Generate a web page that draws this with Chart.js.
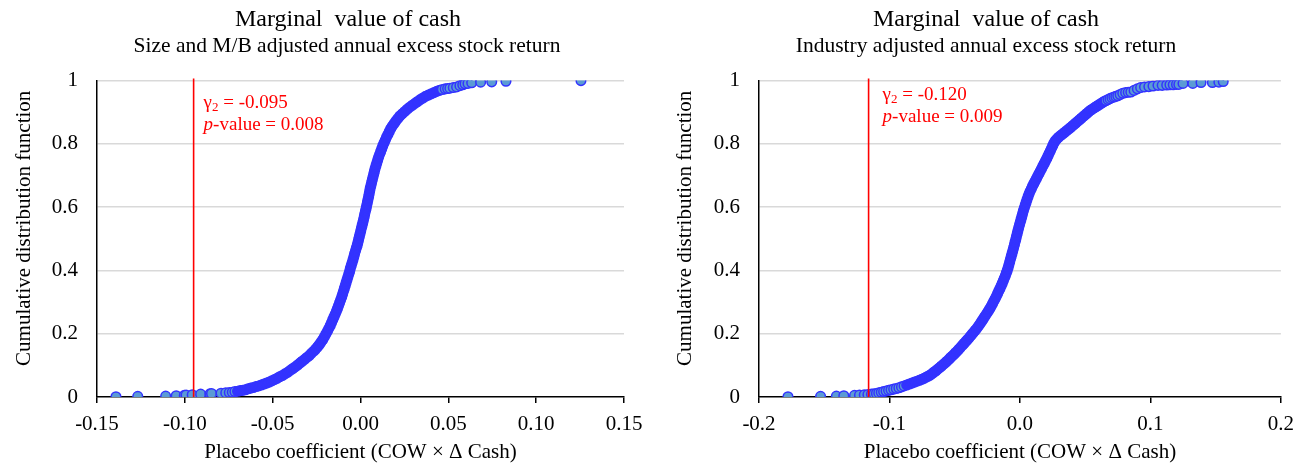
<!DOCTYPE html>
<html>
<head>
<meta charset="utf-8">
<script src="https://cdn.jsdelivr.net/npm/chart.js@4.4.1/dist/chart.umd.min.js"></script>
<style>
  html, body { margin: 0; padding: 0; background: #ffffff; overflow: hidden; }
  #wrap { position: relative; width: 1303px; height: 465px; }
  canvas { position: absolute; top: 0; }
  #c1 { left: 0px; }
  #c2 { left: 669px; }
</style>
</head>
<body>
<div id="wrap">
  <canvas id="c1" width="696" height="465"></canvas>
  <canvas id="c2" width="634" height="465"></canvas>
</div>
<script>
// ---------- DATA ----------
const mainTitle = 'Marginal  value of cash';
const leftSubtitle = 'Size and M/B adjusted annual excess stock return';
const rightSubtitle = 'Industry adjusted annual excess stock return';
const xAxisTitle = 'Placebo coefficient (COW \u00d7 \u0394 Cash)';
const yAxisTitle = 'Cumulative distribution function';

const yTickValues = [0, 0.2, 0.4, 0.6, 0.8, 1];
const yTickLabels = ['0', '0.2', '0.4', '0.6', '0.8', '1'];
const leftXTickValues = [-0.15, -0.10, -0.05, 0, 0.05, 0.10, 0.15];
const leftXTickLabels = ['-0.15', '-0.10', '-0.05', '0.00', '0.05', '0.10', '0.15'];
const rightXTickValues = [-0.2, -0.1, 0, 0.1, 0.2];
const rightXTickLabels = ['-0.2', '-0.1', '0.0', '0.1', '0.2'];

// Left panel: placebo coefficients (x) and cumulative share (y)
const leftX = [
-0.1392,-0.1268,-0.1109,-0.1049,-0.1003,-0.0993,-0.0958,-0.0910,-0.0857,-0.0848,-0.0794,-0.0767,-0.0747,
-0.0730,-0.0715,-0.0700,-0.0685,-0.0670,-0.0655,-0.0640,-0.0625,-0.0610,-0.0595,-0.0580,-0.0565,-0.0550,-0.0535,
-0.0520,-0.0505,-0.0490,-0.0475,-0.0460,-0.0445,-0.0430,-0.0415,-0.0400,-0.0385,-0.0372,-0.0358,-0.0345,-0.0332,
-0.0318,-0.0305,-0.0292,-0.0280,-0.0268,-0.0256,-0.0245,-0.0235,-0.0225,-0.0215,-0.0206,-0.0197,-0.0188,-0.0180,
-0.0172,-0.0165,-0.0158,-0.0151,-0.0144,-0.0137,-0.0131,-0.0125,-0.0119,-0.0113,-0.0107,-0.0102,-0.0097,-0.0092,
-0.0087,-0.0082,-0.0077,-0.0072,-0.0067,-0.0062,-0.0058,-0.0053,-0.0048,-0.0043,-0.0038,-0.0034,-0.0029,-0.0024,
-0.0019,-0.0015,-0.0011,-0.0007,-0.0003,0.0001,0.0005,0.0009,0.0013,0.0017,0.0021,0.0024,0.0028,0.0032,
0.0035,0.0039,0.0042,0.0046,0.0049,0.0052,0.0055,0.0059,0.0063,0.0067,0.0071,0.0075,0.0079,0.0083,
0.0088,0.0093,0.0098,0.0103,0.0109,0.0115,0.0121,0.0127,0.0134,0.0141,0.0148,0.0156,0.0164,0.0172,
0.0181,0.0191,0.0201,0.0212,0.0224,0.0237,0.0251,0.0265,0.0280,0.0295,0.0310,0.0325,0.0340,0.0355,
0.0370,0.0386,0.0402,0.0418,0.0434,0.0450,0.0466,0.0482,0.0496,0.0509,0.0528,0.0547,0.0566,0.0582,
0.0595,0.0612,0.0633,0.0684,0.0747,0.0828,0.1255
];
const leftY = [
0.001,0.002,0.003,0.004,0.005,0.006,0.007,0.009,0.010,0.011,0.012,0.013,0.014,
0.015,0.017,0.018,0.020,0.021,0.023,0.026,0.028,0.030,0.033,0.035,0.038,0.041,0.044,
0.047,0.051,0.055,0.059,0.064,0.068,0.073,0.078,0.084,0.090,0.095,0.101,0.107,0.113,
0.119,0.125,0.131,0.138,0.144,0.151,0.158,0.165,0.173,0.181,0.190,0.199,0.208,0.217,
0.226,0.235,0.244,0.253,0.262,0.271,0.280,0.289,0.298,0.307,0.316,0.325,0.334,0.343,
0.352,0.361,0.370,0.379,0.388,0.397,0.406,0.415,0.424,0.433,0.443,0.452,0.461,0.470,
0.479,0.488,0.497,0.506,0.515,0.524,0.533,0.542,0.551,0.560,0.569,0.578,0.587,0.596,
0.605,0.614,0.623,0.632,0.641,0.650,0.659,0.668,0.677,0.686,0.695,0.704,0.713,0.722,
0.731,0.740,0.749,0.758,0.767,0.776,0.785,0.794,0.803,0.812,0.821,0.830,0.839,0.848,
0.856,0.864,0.872,0.880,0.888,0.895,0.902,0.909,0.916,0.922,0.928,0.934,0.940,0.945,
0.950,0.954,0.958,0.962,0.966,0.969,0.972,0.974,0.975,0.976,0.978,0.980,0.984,0.987,
0.990,0.991,0.993,0.995,0.996,0.998,1.000
];

// Right panel
const rightX = [
-0.1778,-0.1528,-0.1407,-0.1350,-0.1268,-0.1230,-0.1193,-0.1165,-0.1138,
-0.1118,-0.1100,-0.1082,-0.1063,-0.1045,-0.1026,-0.1007,-0.0988,-0.0968,-0.0948,-0.0928,-0.0908,
-0.0888,-0.0868,-0.0848,-0.0828,-0.0808,-0.0788,-0.0770,-0.0752,-0.0735,-0.0718,-0.0702,-0.0688,
-0.0673,-0.0658,-0.0644,-0.0630,-0.0615,-0.0601,-0.0587,-0.0573,-0.0560,-0.0546,-0.0533,-0.0520,
-0.0507,-0.0494,-0.0481,-0.0468,-0.0455,-0.0442,-0.0429,-0.0416,-0.0403,-0.0390,-0.0378,-0.0366,
-0.0354,-0.0342,-0.0330,-0.0318,-0.0306,-0.0295,-0.0284,-0.0273,-0.0262,-0.0251,-0.0240,-0.0230,
-0.0220,-0.0210,-0.0200,-0.0190,-0.0180,-0.0171,-0.0162,-0.0153,-0.0144,-0.0136,-0.0128,-0.0120,
-0.0112,-0.0105,-0.0098,-0.0091,-0.0085,-0.0079,-0.0073,-0.0067,-0.0061,-0.0055,-0.0049,-0.0043,
-0.0038,-0.0032,-0.0027,-0.0021,-0.0016,-0.0010,-0.0004,0.0002,0.0008,0.0014,0.0020,0.0026,
0.0033,0.0040,0.0047,0.0054,0.0062,0.0070,0.0078,0.0087,0.0096,0.0106,0.0116,0.0126,
0.0136,0.0146,0.0156,0.0166,0.0176,0.0186,0.0196,0.0206,0.0215,0.0224,0.0233,0.0242,
0.0251,0.0260,0.0270,0.0282,0.0296,0.0311,0.0326,0.0341,0.0356,0.0371,0.0386,0.0400,
0.0414,0.0428,0.0442,0.0456,0.0470,0.0484,0.0498,0.0512,0.0526,0.0540,0.0555,0.0570,
0.0585,0.0600,0.0615,0.0630,0.0645,0.0660,0.0675,0.0690,0.0705,0.0720,0.0735,0.0750,
0.0768,0.0788,0.0810,0.0830,0.0850,0.0875,0.0900,0.0925,0.0955,0.0988,0.1020,0.1058,
0.1090,0.1125,0.1150,0.1175,0.1200,0.1218,0.1250,0.1325,0.1388,0.1475,0.1525,0.1558
];
const rightY = [
0.001,0.002,0.003,0.004,0.005,0.006,0.007,0.008,0.009,
0.010,0.011,0.013,0.015,0.017,0.019,0.021,0.023,0.025,0.027,0.029,0.032,
0.035,0.038,0.041,0.044,0.047,0.050,0.053,0.056,0.059,0.063,0.066,0.069,
0.074,0.079,0.083,0.088,0.093,0.098,0.103,0.108,0.113,0.118,0.124,0.129,
0.134,0.140,0.145,0.151,0.157,0.163,0.169,0.175,0.181,0.187,0.193,0.199,
0.205,0.211,0.217,0.224,0.231,0.238,0.245,0.252,0.259,0.266,0.273,0.280,
0.287,0.295,0.303,0.311,0.319,0.327,0.335,0.343,0.351,0.359,0.367,0.375,
0.383,0.391,0.399,0.408,0.417,0.426,0.435,0.444,0.453,0.462,0.471,0.480,
0.489,0.498,0.507,0.516,0.525,0.534,0.543,0.552,0.561,0.570,0.579,0.588,
0.597,0.606,0.615,0.624,0.633,0.642,0.650,0.658,0.666,0.674,0.682,0.690,
0.698,0.706,0.714,0.722,0.730,0.738,0.746,0.754,0.762,0.770,0.778,0.786,
0.794,0.802,0.809,0.815,0.821,0.826,0.831,0.836,0.841,0.846,0.851,0.856,
0.861,0.866,0.871,0.876,0.881,0.886,0.891,0.896,0.901,0.906,0.910,0.914,
0.918,0.922,0.926,0.930,0.934,0.937,0.940,0.943,0.946,0.948,0.950,0.952,
0.956,0.960,0.962,0.963,0.964,0.969,0.974,0.978,0.980,0.981,0.983,0.985,
0.985,0.986,0.987,0.987,0.988,0.988,0.991,0.991,0.994,0.994,0.995,0.997
];

// Actual coefficient markers (red line) and their labels
const leftGamma = -0.095, leftGammaLineX = -0.095, leftPValue = '0.008';
const rightGamma = -0.120, rightGammaLineX = -0.116, rightPValue = '0.009';

// ---------- RENDERING ----------
const FONT = '"Liberation Serif", "Times New Roman", serif';

const notePlugin = {
  id: 'gammaNote',
  afterDatasetsDraw(chart, args, opts) {
    const ctx = chart.ctx;
    const xs = chart.scales.x;
    const x0 = xs.getPixelForValue(opts.lineX) + opts.dx;
    const top = chart.chartArea.top;
    const y1 = top + opts.dy1, y2 = top + opts.dy2;
    ctx.save();
    ctx.fillStyle = '#FF0000';
    ctx.textBaseline = 'middle';
    ctx.textAlign = 'left';
    ctx.font = '19px ' + FONT;
    ctx.fillText('\u03b3', x0, y1);
    let w = ctx.measureText('\u03b3').width;
    ctx.font = '13px ' + FONT;
    ctx.fillText('2', x0 + w, y1 + 5);
    w += ctx.measureText('2').width;
    ctx.font = '19px ' + FONT;
    ctx.fillText(' = ' + opts.gamma.toFixed(3), x0 + w, y1);
    ctx.font = 'italic 19px ' + FONT;
    ctx.fillText('p', x0, y2);
    const wp = ctx.measureText('p').width;
    ctx.font = '19px ' + FONT;
    ctx.fillText('-value = ' + opts.p, x0 + wp, y2);
    ctx.restore();
  }
};

function makeChart(id, p) {
  const pts = p.xs.map((x, i) => ({ x: x, y: p.ys[i] }));
  return new Chart(document.getElementById(id), {
    type: 'scatter',
    data: {
      datasets: [
        {
          type: 'line',
          data: [{ x: p.lineX, y: 0 }, { x: p.lineX, y: 1.007 }],
          borderColor: '#FF0000',
          borderWidth: 1.6,
          pointRadius: 0,
          showLine: true,
          clip: false
        },
        {
          data: pts,
          pointRadius: 4.8,
          borderWidth: 1.5,
          borderColor: '#3333FF',
          backgroundColor: (c) => {
            const r = c.raw;
            if (!r) return '#3333FF';
            return (r.y <= p.lowCut || r.y >= p.highCut) ? '#5B9BD5' : '#3333FF';
          }
        }
      ]
    },
    options: {
      responsive: false,
      animation: false,
      events: [],
      layout: { padding: { left: p.padLeft, right: p.padRight, top: 0, bottom: 0 } },
      plugins: {
        legend: { display: false },
        tooltip: { enabled: false },
        title: {
          display: true, text: p.titleIndent + mainTitle, color: '#000',
          font: { family: FONT, size: 24, weight: 'normal', lineHeight: 1.2 },
          padding: { top: 5, bottom: 0 }
        },
        subtitle: {
          display: true, text: p.subIndent + p.subtitle, color: '#000',
          font: { family: FONT, size: 21.5, weight: 'normal', lineHeight: 1.2 },
          padding: { top: 0, bottom: 21 }
        },
        gammaNote: { lineX: p.lineX, dx: p.noteDx, dy1: p.noteDy1, dy2: p.noteDy2, gamma: p.gamma, p: p.pval }
      },
      scales: {
        x: {
          type: 'linear',
          min: p.xTicks[0],
          max: p.xTicks[p.xTicks.length - 1],
          afterBuildTicks: (s) => { s.ticks = p.xTicks.map(v => ({ value: v })); },
          afterFit: (s) => { s.height = 68; },
          grid: { drawOnChartArea: false, drawTicks: true, tickLength: 6, tickColor: '#000', tickWidth: 1.5, lineWidth: 1.5, color: '#000' },
          border: { display: true, color: '#000', width: 1.5 },
          ticks: {
            padding: 9, color: '#000', maxRotation: 0, autoSkip: false,
            font: { family: FONT, size: 21, lineHeight: 1.2 },
            callback: (v, i) => p.xLabels[i]
          },
          title: {
            display: true, text: xAxisTitle, color: '#000',
            font: { family: FONT, size: 21, lineHeight: 1.2 },
            padding: { top: 0, bottom: 0 }
          }
        },
        y: {
          type: 'linear',
          min: 0, max: 1,
          afterBuildTicks: (s) => { s.ticks = yTickValues.map(v => ({ value: v })); },
          afterFit: (s) => { s.width = p.yWidth; },
          grid: {
            drawTicks: false, lineWidth: 1.5,
            color: (c) => (c.tick && c.tick.value === 0) ? 'rgba(0,0,0,0)' : '#D9D9D9'
          },
          border: { display: true, color: '#000', width: 1.5 },
          ticks: {
            padding: 19, color: '#000', autoSkip: false,
            font: { family: FONT, size: 21, lineHeight: 1.2 },
            callback: (v, i) => yTickLabels[i]
          },
          title: {
            display: true, text: '    ' + yAxisTitle, color: '#000',
            font: { family: FONT, size: 21, lineHeight: 1.2 },
            padding: { top: p.yTitlePad, bottom: 0 }
          }
        }
      }
    },
    plugins: [notePlugin]
  });
}

makeChart('c1', {
  xs: leftX, ys: leftY, subtitle: leftSubtitle,
  xTicks: leftXTickValues, xLabels: leftXTickLabels,
  lineX: leftGammaLineX, gamma: leftGamma, pval: leftPValue,
  noteDx: 10, noteDy1: 22, noteDy2: 44,
  padLeft: 0, padRight: 72, yWidth: 97, yTitlePad: 11.4,
  titleIndent: '            ', subIndent: '             ',
  lowCut: 0.017, highCut: 0.972
});
makeChart('c2', {
  xs: rightX, ys: rightY, subtitle: rightSubtitle,
  xTicks: rightXTickValues, xLabels: rightXTickLabels,
  lineX: rightGammaLineX, gamma: rightGamma, pval: rightPValue,
  noteDx: 14, noteDy1: 14, noteDy2: 36,
  padLeft: 12, padRight: 12, yWidth: 78, yTitlePad: -8.6,
  titleIndent: '', subIndent: '',
  lowCut: 0.035, highCut: 0.935
});
</script>
</body>
</html>
